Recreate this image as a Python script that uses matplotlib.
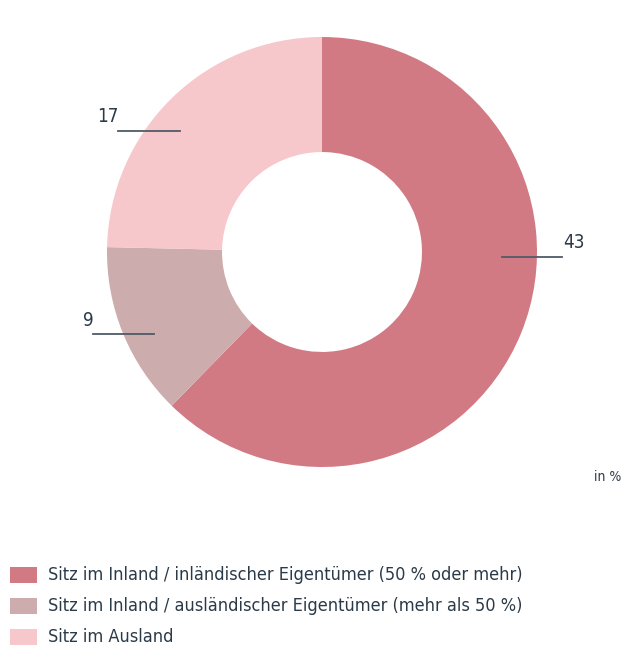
import matplotlib.pyplot as plt
from matplotlib.patches import Rectangle

# Werte (in %)
labels = ["Sitz im Inland / inländischer Eigentümer (50 % oder mehr)",
          "Sitz im Inland / ausländischer Eigentümer (mehr als 50 %)",
          "Sitz im Ausland"]
values = [43, 9, 17]
colors = ["#d27a84", "#cdacad", "#f6c7cb"]

W, H = 629, 650
fig = plt.figure(figsize=(W / 100, H / 100), dpi=100)
ax = fig.add_axes([0, 0, 1, 1])

font = "DejaVu Sans"
txt_col = "#2b3a48"
line_col = "#4f5b68"

cx, cy, r = 322, H - 252, 215
wedges, _ = ax.pie(values, colors=colors, startangle=90, counterclock=False,
                   center=(cx, cy), radius=r, frame=True,
                   wedgeprops=dict(width=r * 0.535, linewidth=0))
ax.set_xlim(0, W)
ax.set_ylim(0, H)
ax.set_aspect("equal")
ax.axis("off")

# Beschriftungen mit Führungslinien
ax.plot([502, 562], [H - 257, H - 257], color=line_col, lw=1.3)
ax.text(563, H - 243, str(values[0]), ha="left", va="center", fontsize=13.5,
        color=txt_col, family=font, stretch="condensed")
ax.plot([93, 154], [H - 334, H - 334], color=line_col, lw=1.3)
ax.text(83, H - 321, str(values[1]), ha="left", va="center", fontsize=13.5,
        color=txt_col, family=font, stretch="condensed")
ax.plot([118, 180], [H - 131, H - 131], color=line_col, lw=1.3)
ax.text(97, H - 117, str(values[2]), ha="left", va="center", fontsize=13.5,
        color=txt_col, family=font, stretch="condensed")

ax.text(594, H - 477, "in %", ha="left", va="center", fontsize=10,
        color=txt_col, family=font, stretch="condensed")

# Legende
for i, (lab, c) in enumerate(zip(labels, colors)):
    y = H - (575 + i * 31)
    ax.add_patch(Rectangle((10, y - 8), 27, 16, color=c, lw=0))
    ax.text(48, y, lab, ha="left", va="center", fontsize=13,
            color=txt_col, family=font, stretch="condensed")

fig.savefig("out.png", dpi=100)
